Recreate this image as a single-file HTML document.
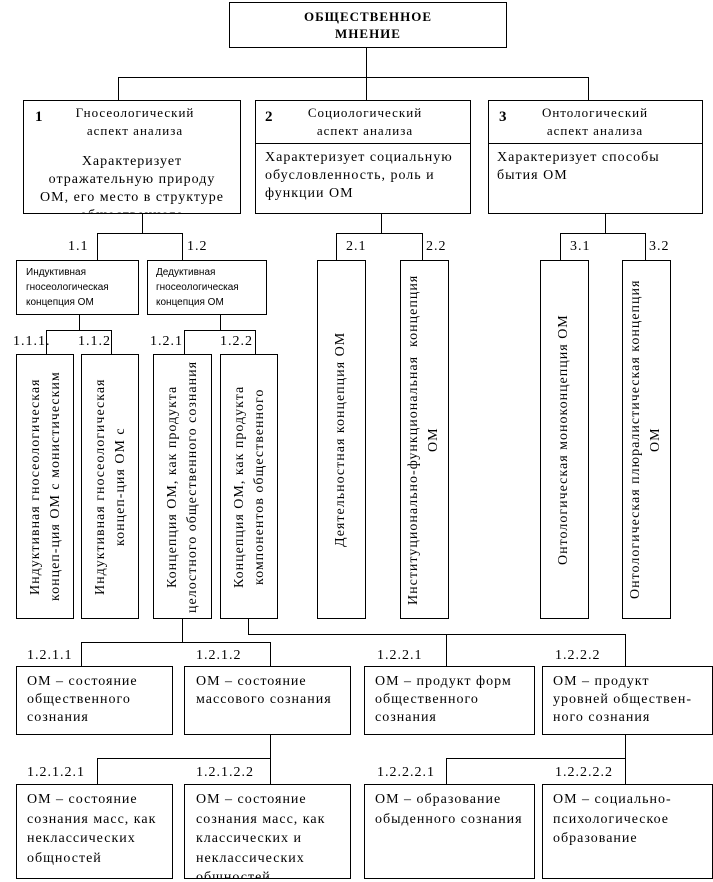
<!DOCTYPE html>
<html><head><meta charset="utf-8"><style>
body{margin:0;width:713px;height:882px;background:#fff;position:relative;overflow:hidden;font-family:"Liberation Serif","Noto Serif CJK SC",serif;color:#000}
.b{position:absolute;border:1px solid #000;box-sizing:border-box;overflow:hidden;background:#fff}
.h{position:absolute;height:1px;background:#000}
.v{position:absolute;width:1px;background:#000}
.t{position:absolute;font-size:14px;line-height:18px;white-space:nowrap;letter-spacing:1px}
.s{font-family:"Liberation Sans","Noto Sans CJK SC",sans-serif;font-size:10px;line-height:15px;letter-spacing:0}
.vt{position:absolute;top:0;writing-mode:vertical-rl;transform:rotate(180deg);font-size:14px;line-height:20px;white-space:nowrap;letter-spacing:1px;text-align:center}
.c{text-align:center}
</style></head><body>
<!-- top -->
<div class="b" style="left:229px;top:2px;width:278px;height:46px"></div>
<div class="t c" style="left:229px;top:8px;width:278px;font-weight:bold;font-size:13px;line-height:17px">ОБЩЕСТВЕННОЕ<br>МНЕНИЕ</div>
<div class="v" style="left:366px;top:47px;height:31px"></div>
<div class="h" style="left:118px;top:77px;width:471px"></div>
<div class="v" style="left:118px;top:77px;height:23px"></div>
<div class="v" style="left:366px;top:77px;height:23px"></div>
<div class="v" style="left:588px;top:77px;height:23px"></div>
<!-- aspect boxes -->
<div class="b" style="left:23px;top:100px;width:218px;height:114px"></div>
<div class="h" style="left:23px;top:143px;width:218px"></div>
<div class="t" style="left:35px;top:108px;font-weight:bold;font-size:15px">1</div>
<div class="t c" style="left:55px;top:104px;width:160px;font-size:13px">Гносеологический<br>аспект анализа</div>
<div class="b" style="left:23px;top:142px;width:218px;height:72px;border-top:none">
<div class="t c" style="left:0;top:11px;width:216px">Характеризует<br>отражательную природу<br>ОМ, его место в структуре<br>общественного</div></div>

<div class="b" style="left:255px;top:100px;width:216px;height:114px"></div>
<div class="h" style="left:255px;top:143px;width:216px"></div>
<div class="t" style="left:265px;top:108px;font-weight:bold;font-size:15px">2</div>
<div class="t c" style="left:285px;top:104px;width:160px;font-size:13px">Социологический<br>аспект анализа</div>
<div class="t" style="left:265px;top:149px">Характеризует социальную<br>обусловленность, роль и<br>функции ОМ</div>

<div class="b" style="left:488px;top:100px;width:215px;height:114px"></div>
<div class="h" style="left:488px;top:143px;width:215px"></div>
<div class="t" style="left:499px;top:108px;font-weight:bold;font-size:15px">3</div>
<div class="t c" style="left:515px;top:104px;width:160px;font-size:13px">Онтологический<br>аспект анализа</div>
<div class="t" style="left:497px;top:149px">Характеризует способы<br>бытия ОМ</div>

<!-- branch 1 -->
<div class="v" style="left:142px;top:213px;height:21px"></div>
<div class="h" style="left:97px;top:233px;width:86px"></div>
<div class="v" style="left:97px;top:233px;height:27px"></div>
<div class="v" style="left:182px;top:233px;height:27px"></div>
<div class="t" style="left:68px;top:238px">1.1</div>
<div class="t" style="left:187px;top:238px">1.2</div>
<div class="b" style="left:16px;top:260px;width:123px;height:55px"></div>
<div class="t s" style="left:26px;top:265px">Индуктивная<br>гносеологическая<br>концепция ОМ</div>
<div class="b" style="left:147px;top:260px;width:120px;height:55px"></div>
<div class="t s" style="left:156px;top:265px">Дедуктивная<br>гносеологическая<br>концепция ОМ</div>

<div class="v" style="left:79px;top:314px;height:17px"></div>
<div class="h" style="left:46px;top:330px;width:66px"></div>
<div class="v" style="left:46px;top:330px;height:25px"></div>
<div class="v" style="left:111px;top:330px;height:25px"></div>
<div class="t" style="left:13px;top:333px">1.1.1.</div>
<div class="t" style="left:78px;top:333px">1.1.2</div>
<div class="v" style="left:220px;top:314px;height:17px"></div>
<div class="h" style="left:184px;top:330px;width:72px"></div>
<div class="v" style="left:184px;top:330px;height:25px"></div>
<div class="v" style="left:255px;top:330px;height:25px"></div>
<div class="t" style="left:150px;top:333px">1.2.1</div>
<div class="t" style="left:220px;top:333px">1.2.2</div>

<div class="b" style="left:16px;top:354px;width:58px;height:265px"><div class="vt" style="left:9px;height:263px">Индуктивная гносеологическая<br>концеп-ция ОМ с монистическим</div></div>
<div class="b" style="left:81px;top:354px;width:58px;height:265px"><div class="vt" style="left:9px;height:263px">Индуктивная гносеологическая<br>концеп-ция ОМ с</div></div>
<div class="b" style="left:153px;top:354px;width:59px;height:265px"><div class="vt" style="left:9px;height:263px">Концепция ОМ, как продукта<br>целостного общественного сознания</div></div>
<div class="b" style="left:220px;top:354px;width:58px;height:265px"><div class="vt" style="left:9px;height:263px">Концепция ОМ, как продукта<br>компонентов общественного</div></div>

<!-- branch 2 -->
<div class="v" style="left:381px;top:213px;height:21px"></div>
<div class="h" style="left:336px;top:233px;width:87px"></div>
<div class="v" style="left:336px;top:233px;height:27px"></div>
<div class="v" style="left:422px;top:233px;height:27px"></div>
<div class="t" style="left:346px;top:238px">2.1</div>
<div class="t" style="left:426px;top:238px">2.2</div>
<div class="b" style="left:317px;top:260px;width:49px;height:359px"><div class="vt" style="left:13px;height:357px">Деятельностная концепция ОМ</div></div>
<div class="b" style="left:400px;top:260px;width:49px;height:359px"><div class="vt" style="left:3px;height:357px">Институционально-функциональная&nbsp; концепция<br>ОМ</div></div>

<!-- branch 3 -->
<div class="v" style="left:605px;top:213px;height:21px"></div>
<div class="h" style="left:560px;top:233px;width:86px"></div>
<div class="v" style="left:560px;top:233px;height:27px"></div>
<div class="v" style="left:645px;top:233px;height:27px"></div>
<div class="t" style="left:570px;top:238px">3.1</div>
<div class="t" style="left:649px;top:238px">3.2</div>
<div class="b" style="left:540px;top:260px;width:49px;height:359px"><div class="vt" style="left:13px;height:357px">Онтологическая моноконцепция ОМ</div></div>
<div class="b" style="left:622px;top:260px;width:49px;height:359px"><div class="vt" style="left:3px;height:357px">Онтологическая плюралистическая концепция<br>ОМ</div></div>

<!-- lower tree -->
<div class="v" style="left:182px;top:618px;height:25px"></div>
<div class="h" style="left:81px;top:642px;width:190px"></div>
<div class="v" style="left:81px;top:642px;height:25px"></div>
<div class="v" style="left:270px;top:642px;height:25px"></div>
<div class="v" style="left:248px;top:618px;height:17px"></div>
<div class="h" style="left:248px;top:634px;width:378px"></div>
<div class="v" style="left:446px;top:634px;height:33px"></div>
<div class="v" style="left:625px;top:634px;height:33px"></div>
<div class="t" style="left:27px;top:647px">1.2.1.1</div>
<div class="t" style="left:196px;top:647px">1.2.1.2</div>
<div class="t" style="left:377px;top:647px">1.2.2.1</div>
<div class="t" style="left:555px;top:647px">1.2.2.2</div>

<div class="b" style="left:16px;top:666px;width:157px;height:69px"><div class="t" style="left:10px;top:6px">ОМ – состояние<br>общественного<br>сознания</div></div>
<div class="b" style="left:184px;top:666px;width:167px;height:69px"><div class="t" style="left:11px;top:6px">ОМ – состояние<br>массового сознания</div></div>
<div class="b" style="left:364px;top:666px;width:171px;height:69px"><div class="t" style="left:10px;top:6px">ОМ – продукт форм<br>общественного<br>сознания</div></div>
<div class="b" style="left:542px;top:666px;width:171px;height:69px"><div class="t" style="left:10px;top:6px">ОМ – продукт<br>уровней обществен-<br>ного сознания</div></div>

<div class="v" style="left:270px;top:734px;height:25px"></div>
<div class="h" style="left:97px;top:758px;width:174px"></div>
<div class="v" style="left:97px;top:758px;height:27px"></div>
<div class="v" style="left:270px;top:758px;height:27px"></div>
<div class="v" style="left:625px;top:734px;height:25px"></div>
<div class="h" style="left:446px;top:758px;width:180px"></div>
<div class="v" style="left:446px;top:758px;height:27px"></div>
<div class="v" style="left:625px;top:758px;height:27px"></div>
<div class="t" style="left:27px;top:764px">1.2.1.2.1</div>
<div class="t" style="left:196px;top:764px">1.2.1.2.2</div>
<div class="t" style="left:377px;top:764px">1.2.2.2.1</div>
<div class="t" style="left:555px;top:764px">1.2.2.2.2</div>

<div class="b" style="left:16px;top:784px;width:157px;height:95px"><div class="t" style="left:10px;top:5px;line-height:19.5px">ОМ – состояние<br>сознания масс, как<br>неклассических<br>общностей</div></div>
<div class="b" style="left:184px;top:784px;width:167px;height:95px"><div class="t" style="left:11px;top:5px;line-height:19.5px">ОМ – состояние<br>сознания масс, как<br>классических и<br>неклассических<br>общностей</div></div>
<div class="b" style="left:364px;top:784px;width:171px;height:95px"><div class="t" style="left:10px;top:5px;line-height:19.5px">ОМ – образование<br>обыденного сознания</div></div>
<div class="b" style="left:542px;top:784px;width:171px;height:95px"><div class="t" style="left:10px;top:5px;line-height:19.5px">ОМ – социально-<br>психологическое<br>образование</div></div>
</body></html>
